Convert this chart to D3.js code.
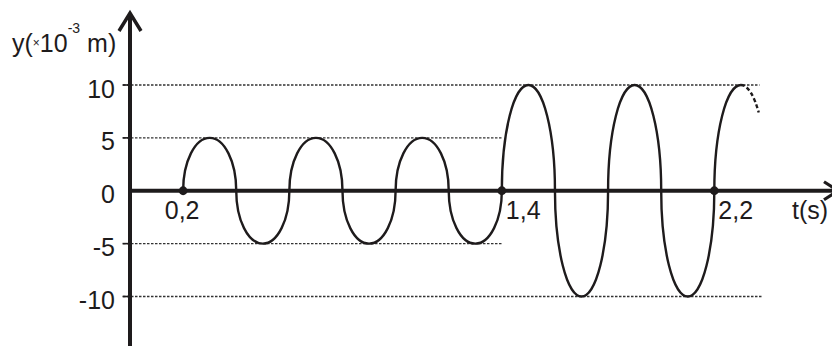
<!DOCTYPE html>
<html>
<head>
<meta charset="utf-8">
<script src="https://cdn.jsdelivr.net/npm/d3@7"></script>
<style>
  html, body { margin: 0; padding: 0; background: #fff; }
  svg { display: block; }
  text { font-family: "Liberation Sans", Arial, sans-serif; fill: #1e1b1c; }
</style>
</head>
<body>
<svg id="chart" width="832" height="346"></svg>
<script>
// ---- data ----
const yTicks = [10, 5, 0, -5, -10];
const yTickLabels = ["10", "5", "0", "-5", "-10"];
// dashed reference lines: value and the time where each line stops
const gridValues = [10, 5, -5, -10];
const gridEnds = [2.37, 1.4, 1.4, 2.38];
// key points of the wave (zero crossings and extremes), t in s, y in 1e-3 m
const waveT = [0.2, 0.3, 0.4, 0.5, 0.6, 0.7, 0.8, 0.9, 1.0, 1.1, 1.2, 1.3, 1.4,
               1.5, 1.6, 1.7, 1.8, 1.9, 2.0, 2.1, 2.2, 2.3];
const waveY = [0, 5, 0, -5, 0, 5, 0, -5, 0, 5, 0, -5, 0,
               10, 0, -10, 0, 10, 0, -10, 0, 10];
// dashed continuation after the last peak: value where it stops
const dashEndY = 7.4;
// marked times on the t axis
const markT = [0.2, 1.4, 2.2];
const markLabels = ["0,2", "1,4", "2,2"];

// ---- layout ----
const svg = d3.select("#chart");
const ink = "#1e1b1c";
const x = d3.scaleLinear().domain([0, 1]).range([130, 395.6]);
const y = d3.scaleLinear().domain([-10, 10]).range([296.5, 85]);

// dashed grid lines
svg.append("g").selectAll("line").data(gridValues).join("line")
  .attr("x1", 123).attr("x2", (d, i) => x(gridEnds[i]))
  .attr("y1", d => y(d)).attr("y2", d => y(d))
  .attr("stroke", "#333").attr("stroke-width", 1.3)
  .attr("stroke-dasharray", "2.5,1.5");

// y tick marks
svg.append("g").selectAll("line").data(yTicks.filter(d => d !== 0)).join("line")
  .attr("x1", 122.5).attr("x2", 130)
  .attr("y1", d => y(d)).attr("y2", d => y(d))
  .attr("stroke", ink).attr("stroke-width", 1.6);

// y tick labels
svg.append("g").selectAll("text").data(yTicks).join("text")
  .attr("x", 115).attr("y", d => y(d) + 12.5)
  .attr("text-anchor", "end").attr("font-size", 25)
  .text((d, i) => yTickLabels[i]);

// wave: quarter-ellipse arcs between key points
const pts = waveT.map((t, i) => [x(t), y(waveY[i])]);
let dPath = `M${pts[0][0]},${pts[0][1]}`;
for (let i = 1; i < pts.length; i++) {
  const rx = Math.abs(pts[i][0] - pts[i - 1][0]);
  const ry = Math.abs(pts[i][1] - pts[i - 1][1]);
  const up = (waveY[i] + waveY[i - 1]) > 0 ? 1 : 0;
  dPath += ` A${rx},${ry} 0 0 ${up} ${pts[i][0]},${pts[i][1]}`;
}
svg.append("path").attr("d", dPath)
  .attr("fill", "none").attr("stroke", ink).attr("stroke-width", 2.4);

// dashed continuation on the same ellipse
const lastT = waveT[waveT.length - 1];
const lastY = waveY[waveY.length - 1];
const halfQ = waveT[1] - waveT[0];
const endT = lastT + halfQ * Math.sqrt(1 - (dashEndY / lastY) ** 2);
const rxD = x(lastT + halfQ) - x(lastT);
const ryD = y(0) - y(lastY);
svg.append("path")
  .attr("d", `M${x(lastT)},${y(lastY)} A${rxD},${ryD} 0 0 1 ${x(endT)},${y(dashEndY)}`)
  .attr("fill", "none").attr("stroke", ink).attr("stroke-width", 2.4)
  .attr("stroke-dasharray", "4,2.5");

// axes
svg.append("line").attr("x1", x(0)).attr("x2", x(0)).attr("y1", 346).attr("y2", 14)
  .attr("stroke", ink).attr("stroke-width", 4);
svg.append("path").attr("d", `M${x(0) - 11},${31} L${x(0)},${13} L${x(0) + 11},${31}`)
  .attr("fill", "none").attr("stroke", ink).attr("stroke-width", 3.5);
svg.append("line").attr("x1", x(0)).attr("x2", 838).attr("y1", y(0)).attr("y2", y(0))
  .attr("stroke", ink).attr("stroke-width", 4);
svg.append("path").attr("d", `M${824},${y(0) - 9} L${838},${y(0)} L${824},${y(0) + 9}`)
  .attr("fill", "none").attr("stroke", ink).attr("stroke-width", 3.2);

// marked points
svg.append("g").selectAll("circle").data(markT).join("circle")
  .attr("cx", d => x(d)).attr("cy", y(0)).attr("r", 4.4).attr("fill", ink);
svg.append("g").selectAll("text").data(markT).join("text")
  .attr("x", (d, i) => i === 0 ? x(d) - 1 : x(d) + 4)
  .attr("y", 218.5)
  .attr("text-anchor", (d, i) => i === 0 ? "middle" : "start")
  .attr("font-size", 25)
  .text((d, i) => markLabels[i]);

// axis titles
svg.append("text").attr("x", 792).attr("y", 219).attr("font-size", 25).text("t(s)");
const yl = svg.append("text").attr("x", 12).attr("y", 52).attr("font-size", 25);
yl.append("tspan").text("y(");
yl.append("tspan").attr("font-size", 12).attr("dy", -5).text("×");
yl.append("tspan").attr("dy", 5).text("10");
yl.append("tspan").attr("font-size", 14).attr("dy", -19).text("-3");
yl.append("tspan").attr("dy", 19).text(" m)");
</script>
</body>
</html>
